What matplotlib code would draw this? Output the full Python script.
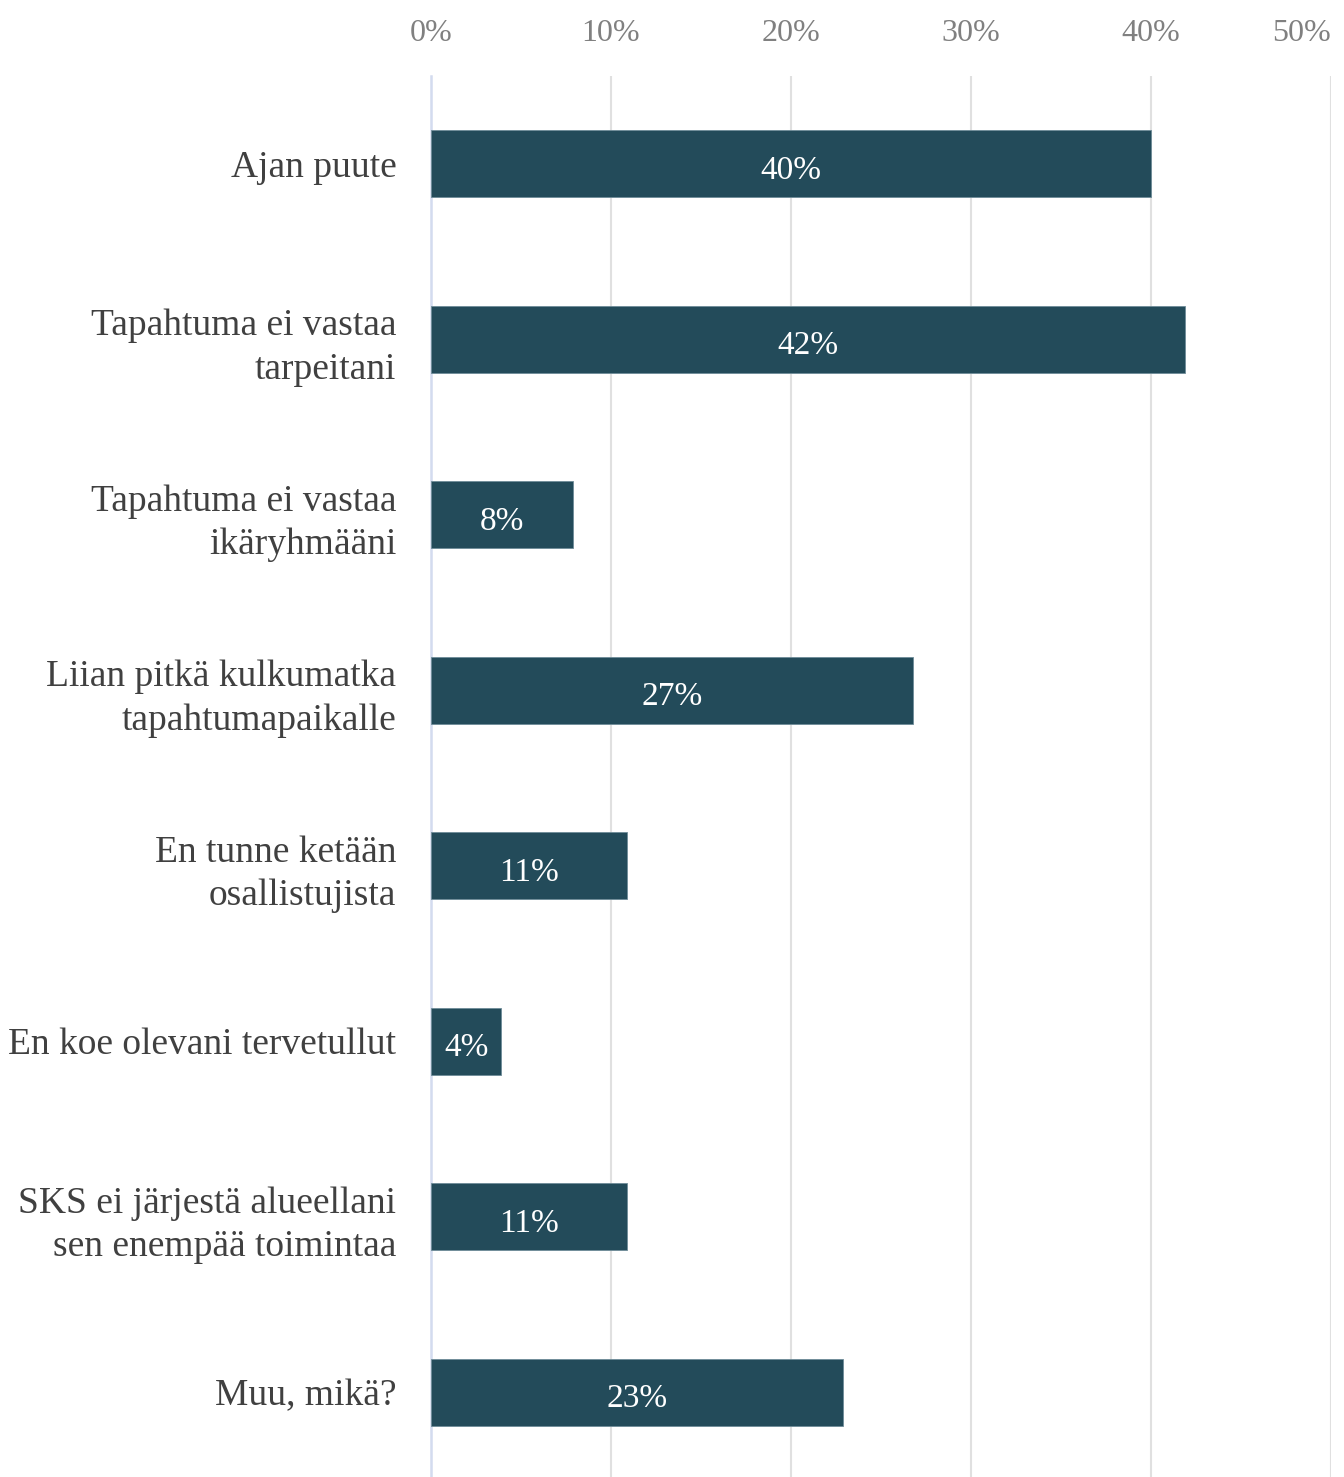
import numpy as np
import matplotlib.pyplot as plt

categories = [
    "Ajan puute",
    "Tapahtuma ei vastaa\ntarpeitani",
    "Tapahtuma ei vastaa\nikäryhmääni",
    "Liian pitkä kulkumatka\ntapahtumapaikalle",
    "En tunne ketään\nosallistujista",
    "En koe olevani tervetullut",
    "SKS ei järjestä alueellani\nsen enempää toimintaa",
    "Muu, mikä?",
]
values = [40.0, 41.9, 7.9, 26.8, 10.9, 3.9, 10.9, 22.9]
ticks = [0, 10, 20, 30, 40, 50]

plt.rcParams['font.family'] = ['Liberation Serif', 'DejaVu Serif']

fig = plt.figure(figsize=(13.44, 14.77), dpi=100)
ax = fig.add_axes([0.3207, -0.002, 0.6696, 0.9506])

y = np.arange(len(categories))
bars = ax.barh(y, values, height=0.38, color="#234B5A", edgecolor="#6E8C98", linewidth=0.6, zorder=3)

# labels in the middle of each bar
for b, v in zip(bars, values):
    ax.text(b.get_width() / 2, b.get_y() + b.get_height() / 2 + 0.04, f"{v:.0f}%",
            ha="center", va="center", color="white", fontsize=24, zorder=4)

ax.set_ylim(len(categories) - 0.5, -0.5)
ax.set_xlim(0, 50)
ax.set_yticks(y)
ax.set_yticklabels(categories, fontsize=27, color="#404040", linespacing=1.35)
ax.set_xticks(ticks)
ax.set_xticklabels([f"{t}%" for t in ticks], fontsize=23, color="#808080")
ax.xaxis.tick_top()
ax.tick_params(axis="x", length=0, pad=20)
ax.tick_params(axis="y", length=0, pad=25)
# last top label is pushed left so it stays inside the figure
ax.xaxis.get_major_ticks()[-1].label2.set_ha("right")
ax.xaxis.get_major_ticks()[-1].label2.set_x(50.2)

ax.grid(axis="x", color="#E0E0E0", linewidth=1.5, zorder=0)
for s in ["top", "right", "bottom"]:
    ax.spines[s].set_visible(False)
ax.spines["left"].set_color("#D3DBEF")
ax.spines["left"].set_linewidth(1.8)

plt.savefig("out.png", dpi=100)
